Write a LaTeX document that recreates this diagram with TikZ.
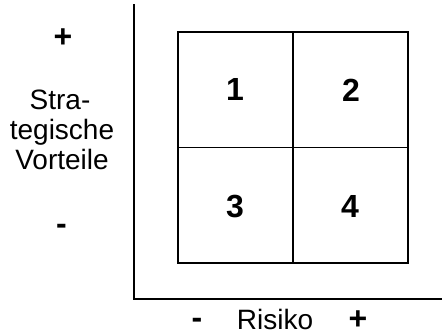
\documentclass[tikz,border=0pt]{standalone}
\usepackage{fontspec}
\setmainfont{Liberation Sans}
\begin{document}
\begin{tikzpicture}[x=1pt,y=-1pt,
  lbl/.style={font=\fontsize{28}{30}\selectfont, inner sep=0pt, anchor=base},
  sign/.style={font=\fontsize{32}{32}\selectfont\bfseries, inner sep=0pt, anchor=base},
  num/.style={font=\fontsize{32}{32}\selectfont\bfseries, inner sep=0pt, anchor=base},
  axis/.style={line width=2pt},
  grid/.style={line width=1.4pt}]
\useasboundingbox (0,0) rectangle (442,335);
\coordinate (top) at (134,4);
\coordinate (origin) at (134,299);
\coordinate (right) at (442,299);
\draw[axis] (top) -- (origin) -- (right);
\coordinate (tl) at (178,32);
\coordinate (tr) at (408,32);
\coordinate (br) at (408,263);
\coordinate (bl) at (178,263);
\coordinate (tm) at (293,32);
\coordinate (bm) at (293,263);
\coordinate (lm) at (178,147.5);
\coordinate (rm) at (408,147.5);
\draw[grid] (tl) -- (tr) -- (br) -- (bl) -- cycle;
\draw[grid] (tm) -- (bm);
\draw[grid] (lm) -- (rm);
\node[num] (n1) at (235,100) {1};
\node[num] (n2) at (351,101) {2};
\node[num] (n3) at (235,217) {3};
\node[num] (n4) at (350,217) {4};
\node[sign] (yplus) at (63,47) {+};
\node[lbl] (ylab1) at (60,109.5) {Stra-};
\node[lbl] (ylab2) at (62,139.5) {tegische};
\node[lbl] (ylab3) at (62,169.5) {Vorteile};
\node[sign] (yminus) at (61.5,234) {-};
\node[sign] (xminus) at (197,328.5) {-};
\node[lbl] (xlab) at (275,329.5) {Risiko};
\node[sign] (xplus) at (358,329.5) {+};
\end{tikzpicture}
\end{document}
